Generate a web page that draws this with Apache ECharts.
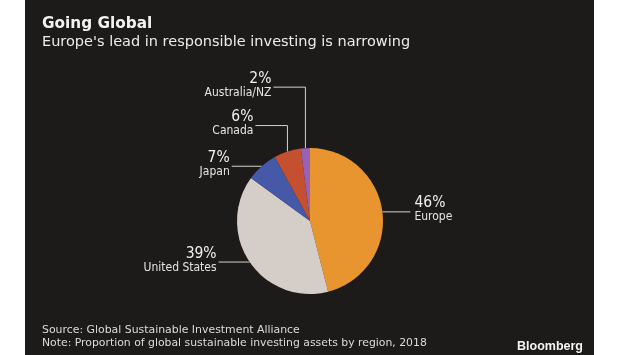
<!DOCTYPE html>
<html>
<head>
<meta charset="utf-8">
<script src="https://cdn.jsdelivr.net/npm/echarts@6/dist/echarts.min.js"></script>
<style>
html,body{margin:0;padding:0;background:#ffffff;}
#c{position:absolute;left:25px;top:0;width:569px;height:355px;}
</style>
</head>
<body>
<div id="c"></div>
<script>
const regions = ['Europe', 'United States', 'Japan', 'Canada', 'Australia/NZ'];
const shares = [46, 39, 7, 6, 2];
const titleText = 'Going Global';
const subtitleText = "Europe's lead in responsible investing is narrowing";
const sourceText = 'Source: Global Sustainable Investment Alliance';
const noteText = 'Note: Proportion of global sustainable investing assets by region, 2018';
const brandText = 'Bloomberg';

const chart = echarts.init(document.getElementById('c'), null, {renderer: 'canvas'});
const sliceColors = ['#e8952f', '#d5cdc8', '#4658a8', '#c4502f', '#9a62b6'];
const narrow = '"DejaVu Sans Condensed", "DejaVu Sans", sans-serif';
const base = '"DejaVu Sans", sans-serif';

// leader geometry per slice: rise (vertical first segment) and run (horizontal segment)
const leader = [
  {rise: 0, run: 28},
  {rise: 0, run: -31},
  {rise: 0, run: -30},
  {rise: 26, run: -32},
  {rise: 61, run: -32}
];

chart.setOption({
  backgroundColor: '#1c1b19',
  animation: false,
  title: [
    {text: titleText, left: 17, top: 17, padding: 0,
     textStyle: {color: '#f2f2f2', fontFamily: base, fontWeight: 'bold', fontSize: 15.3}},
    {text: subtitleText, left: 17, top: 35, padding: 0,
     textStyle: {color: '#ebebeb', fontFamily: base, fontWeight: 'normal', fontSize: 14.5}},
    {text: sourceText, left: 17, top: 325, padding: 0,
     textStyle: {color: '#dcdcdc', fontFamily: base, fontWeight: 'normal', fontSize: 10.9}},
    {text: noteText, left: 17, top: 338, padding: 0,
     textStyle: {color: '#dcdcdc', fontFamily: base, fontWeight: 'normal', fontSize: 10.85}},
    {text: brandText, right: 11, top: 340, padding: 0,
     textStyle: {color: '#f4f4f4', fontFamily: '"Liberation Sans", Arial, sans-serif', fontWeight: 'bold', fontSize: 12.5}}
  ],
  series: [{
    type: 'pie',
    center: [285, 221],
    radius: [0, 73],
    startAngle: 90,
    clockwise: true,
    avoidLabelOverlap: false,
    data: regions.map((r, i) => ({name: r, value: shares[i], itemStyle: {color: sliceColors[i]}})),
    label: {
      show: true,
      position: 'outer',
      formatter: p => '{p|' + p.value + '%}\n{n|' + p.name + '}',
      rich: {
        p: {fontFamily: narrow, fontSize: 15.5, color: '#f0f0f0', lineHeight: 15},
        n: {fontFamily: narrow, fontSize: 12, color: '#e4e4e4', lineHeight: 13}
      }
    },
    labelLine: {show: true, length: 10, length2: 10, smooth: false,
      lineStyle: {color: '#d2d2d2', width: 1}},
    labelLayout: function (params) {
      const pts = params.labelLinePoints;
      if (!pts) return {};
      const L = leader[params.dataIndex];
      const p0 = pts[0];
      const p1 = [p0[0], p0[1] - L.rise];
      const p2 = [p1[0] + L.run, p1[1]];
      const left = L.run > 0;
      return {
        x: p2[0] + (left ? 4 : -2),
        y: p2[1] - 2,
        align: left ? 'left' : 'right',
        verticalAlign: 'middle',
        labelLinePoints: [p0, p1, p2]
      };
    }
  }]
});
</script>
</body>
</html>
